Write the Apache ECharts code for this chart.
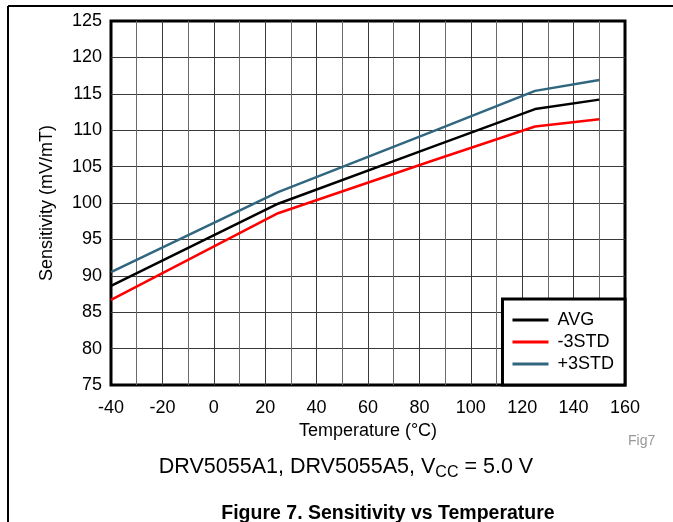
<!DOCTYPE html>
<html>
<head>
<meta charset="utf-8">
<script src="https://cdn.jsdelivr.net/npm/echarts@6/dist/echarts.min.js"></script>
<style>
  html, body { margin: 0; padding: 0; background: #fff; }
  #chart { width: 673px; height: 522px; }
</style>
</head>
<body>
<div id="chart"></div>
<script>
  // temperatures (°C)
  const temps = [-40, 25, 85, 125, 150]
  // sensitivity (mV/mT)
  const avg = [88.6, 99.9, 107.7, 112.9, 114.2]
  const minus3 = [86.7, 98.6, 105.8, 110.5, 111.5]
  const plus3 = [90.5, 101.5, 109.8, 115.4, 116.9]
  const seriesNames = ['AVG', '-3STD', '+3STD']
  const seriesColors = ['#000000', '#ff0000', '#30677f']

  const font = 'Liberation Sans, Arial, sans-serif'

  const toPairs = (ys) => temps.map((t, i) => [t, ys[i]])

  const chart = echarts.init(document.getElementById('chart'))
  const option = {
    animation: false,
    textStyle: { fontFamily: font },
    grid: {
      left: 111,
      right: 48,
      top: 21,
      bottom: 137,
      show: true,
      borderColor: '#000',
      borderWidth: 3,
      backgroundColor: '#fff'
    },
    title: [
      {
        text: '{a|DRV5055A1, DRV5055A5, V}{b|CC}{a| = 5.0 V}',
        left: 341,
        top: 448,
        textAlign: 'center',
        textStyle: {
          fontWeight: 'normal',
          rich: {
            a: { fontFamily: font, fontSize: 21.5, fontWeight: 'normal', color: '#000', lineHeight: 28 },
            b: { fontFamily: font, fontSize: 16, fontWeight: 'normal', color: '#000', lineHeight: 16, verticalAlign: 'bottom' }
          }
        }
      },
      {
        text: 'Figure 7. Sensitivity vs Temperature',
        left: 383,
        top: 499,
        textAlign: 'center',
        textStyle: { fontFamily: font, fontSize: 19.5, fontWeight: 'bold', color: '#000' }
      },
      {
        text: 'Fig7',
        left: 623,
        top: 429,
        textStyle: { fontFamily: font, fontSize: 14, fontWeight: 'normal', color: '#999' }
      }
    ],
    legend: {
      data: seriesNames,
      orient: 'vertical',
      right: 48,
      top: 299,
      padding: [12, 11, 12, 10],
      icon: 'rect',
      itemWidth: 36,
      itemHeight: 3,
      itemGap: 4,
      backgroundColor: '#fff',
      borderColor: '#000',
      borderWidth: 3,
      textStyle: { fontFamily: font, fontSize: 18, color: '#000', padding: [0, 0, 0, 4] }
    },
    xAxis: {
      type: 'value',
      min: -40,
      max: 160,
      interval: 20,
      name: 'Temperature (°C)',
      nameLocation: 'middle',
      nameGap: 36,
      nameTextStyle: { fontFamily: font, fontSize: 18, color: '#000' },
      axisLine: { show: false },
      axisTick: { show: false },
      axisLabel: { fontFamily: font, fontSize: 18, color: '#000', margin: 14 },
      splitLine: { show: true, showMinLine: false, showMaxLine: false, lineStyle: { color: '#3a3a3a', width: 1 } },
      minorTick: { show: false, splitNumber: 2 },
      minorSplitLine: { show: true, lineStyle: { color: '#6a6a6a', width: 1 } }
    },
    yAxis: {
      type: 'value',
      min: 75,
      max: 125,
      interval: 5,
      name: 'Sensitivity (mV/mT)',
      nameLocation: 'middle',
      nameGap: 55,
      nameTextStyle: { fontFamily: font, fontSize: 18, color: '#000' },
      axisLine: { show: false },
      axisTick: { show: false },
      axisLabel: { fontFamily: font, fontSize: 18, color: '#000', margin: 9 },
      splitLine: { show: true, showMinLine: false, showMaxLine: false, lineStyle: { color: '#3a3a3a', width: 1 } }
    },
    graphic: [
      { type: 'line', shape: { x1: 8, y1: 6, x2: 8, y2: 522 }, style: { stroke: '#000', lineWidth: 2 } },
      { type: 'line', shape: { x1: 8, y1: 6, x2: 673, y2: 6 }, style: { stroke: '#000', lineWidth: 2 } }
    ],
    series: [
      { name: seriesNames[0], data: toPairs(avg) },
      { name: seriesNames[1], data: toPairs(minus3) },
      { name: seriesNames[2], data: toPairs(plus3) }
    ].map((s, i) => ({
      name: s.name,
      type: 'line',
      data: s.data,
      symbol: 'none',
      color: seriesColors[i],
      lineStyle: { color: seriesColors[i], width: 2.5 }
    }))
  }
  chart.setOption(option)
</script>
</body>
</html>
